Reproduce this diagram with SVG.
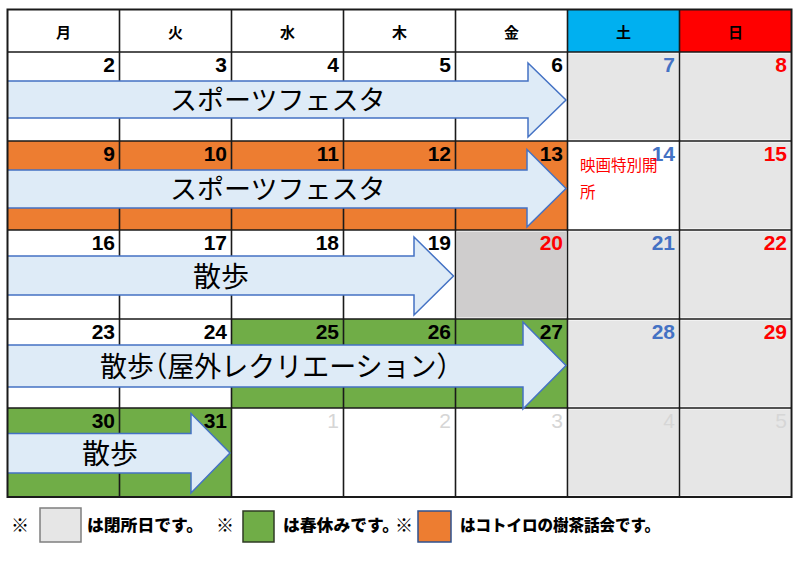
<svg xmlns="http://www.w3.org/2000/svg" width="800" height="565" viewBox="0 0 800 565">
<style>
.hd{font-family:"Noto Sans CJK JP","Noto Sans",sans-serif;font-weight:bold;font-size:15px;fill:#000;text-anchor:middle}
.n{font-family:"Liberation Sans",Arial,sans-serif;font-weight:bold;font-size:21px;text-anchor:end;fill:#000}
.sat{fill:#4472C4}
.sun{fill:#FF0000}
.nx{fill:#D6D6D6;font-weight:normal}
.grid{stroke:#1a1a1a;stroke-width:1.6;fill:none}
.arrow{fill:#DEEBF7;stroke:#4472C4;stroke-width:1.5;stroke-linejoin:miter}
.at{font-family:"Noto Sans CJK JP","Noto Sans",sans-serif;font-size:27px;fill:#000}
.note{font-family:"Noto Sans CJK JP",sans-serif;font-size:15.5px;fill:#FF0000}
.lg{font-family:"Noto Sans CJK JP",sans-serif;font-weight:900;font-size:16px;fill:#000}
.km{font-family:"Noto Sans CJK JP",sans-serif;font-weight:900;font-size:18px;fill:#000}
.closed{fill:#E6E6E6}
.spring{fill:#70AD47}
.tea{fill:#ED7D31}
</style>
<rect x="0" y="0" width="800" height="565" fill="#fff"/>

<g id="header">
<rect x="567.5" y="9.5" width="112" height="42.5" fill="#00B0F0"/>
<rect x="679.5" y="9.5" width="112" height="42.5" fill="#FF0000"/>
<text class="hd" x="63.5" y="38">月</text>
<text class="hd" x="175.5" y="38">火</text>
<text class="hd" x="287.5" y="38">水</text>
<text class="hd" x="399.5" y="38">木</text>
<text class="hd" x="511.5" y="38">金</text>
<text class="hd" x="623.5" y="38">土</text>
<text class="hd" x="735.5" y="38">日</text>
</g>

<g id="cells">
<rect class="closed" x="569" y="53.5" width="109" height="86"/>
<rect class="closed" x="681" y="53.5" width="109" height="86"/>
<rect class="tea" x="7.5" y="141" width="560" height="89"/>
<rect class="closed" x="681" y="142.5" width="109" height="86"/>
<rect x="457" y="231.5" width="109" height="86" fill="#CFCDCD"/>
<rect class="closed" x="569" y="231.5" width="109" height="86"/>
<rect class="closed" x="681" y="231.5" width="109" height="86"/>
<rect class="spring" x="231.5" y="319" width="336" height="89"/>
<rect class="closed" x="569" y="320.5" width="109" height="86"/>
<rect class="closed" x="681" y="320.5" width="109" height="86"/>
<rect class="spring" x="7.5" y="408" width="224" height="89"/>
<rect class="closed" x="569" y="409.5" width="109" height="86"/>
<rect class="closed" x="681" y="409.5" width="109" height="86"/>
</g>

<g id="gridlines" class="grid">
<path d="M7.5 52H791.5M7.5 141H791.5M7.5 230H791.5M7.5 319H791.5M7.5 408H791.5"/>
<path d="M119.5 9.5V497M231.5 9.5V497M343.5 9.5V497M455.5 9.5V497M567.5 9.5V497M679.5 9.5V497"/>
</g>

<g id="arrows">
<g id="arrow-week1">
<path class="arrow" d="M8 81H528V63L566 100L528 137V118H8"/>
<text class="at" x="170" y="110">スポーツフェスタ</text>
</g>
<g id="arrow-week2">
<path class="arrow" d="M8 170H527V149.5L566 188.5L527 227V208H8"/>
<text class="at" x="170" y="198.5">スポーツフェスタ</text>
</g>
<g id="arrow-week3">
<path class="arrow" d="M8 256H414V237L453.5 276L414 315V295H8"/>
<text class="at" x="193" y="287" style="font-size:28px">散歩</text>
</g>
<g id="arrow-week4">
<path class="arrow" d="M8 345H523V322L566 365.5L523 409V387H8"/>
<text class="at" x="100" y="376.5" style="font-size:28px;font-feature-settings:'halt'" textLength="350" lengthAdjust="spacingAndGlyphs">散歩（屋外レクリエーション）</text>
</g>
<g id="arrow-week5">
<path class="arrow" d="M8 433.5H191V413.5L230 453L191 493V473H8"/>
<text class="at" x="82" y="464" style="font-size:28px">散歩</text>
</g>
</g>

<rect class="grid" x="7.5" y="9.5" width="784" height="487.5" style="stroke-width:2"/>

<g id="numbers">
<text class="n" x="115" y="71.5">2</text>
<text class="n" x="227" y="71.5">3</text>
<text class="n" x="339" y="71.5">4</text>
<text class="n" x="451" y="71.5">5</text>
<text class="n" x="563" y="71.5">6</text>
<text class="n sat" x="675" y="71.5">7</text>
<text class="n sun" x="787" y="71.5">8</text>

<text class="n" x="115" y="160.5">9</text>
<text class="n" x="227" y="160.5">10</text>
<text class="n" x="339" y="160.5">11</text>
<text class="n" x="451" y="160.5">12</text>
<text class="n" x="563" y="160.5">13</text>
<text class="n sat" x="675" y="160.5">14</text>
<text class="n sun" x="787" y="160.5">15</text>

<text class="n" x="115" y="249.5">16</text>
<text class="n" x="227" y="249.5">17</text>
<text class="n" x="339" y="249.5">18</text>
<text class="n" x="451" y="249.5">19</text>
<text class="n sun" x="563" y="249.5">20</text>
<text class="n sat" x="675" y="249.5">21</text>
<text class="n sun" x="787" y="249.5">22</text>

<text class="n" x="115" y="338.5">23</text>
<text class="n" x="227" y="338.5">24</text>
<text class="n" x="339" y="338.5">25</text>
<text class="n" x="451" y="338.5">26</text>
<text class="n" x="563" y="338.5">27</text>
<text class="n sat" x="675" y="338.5">28</text>
<text class="n sun" x="787" y="338.5">29</text>

<text class="n" x="115" y="427.5">30</text>
<text class="n" x="227" y="427.5">31</text>
<text class="n nx" x="339" y="427.5">1</text>
<text class="n nx" x="451" y="427.5">2</text>
<text class="n nx" x="563" y="427.5">3</text>
<text class="n nx" x="675" y="427.5">4</text>
<text class="n nx" x="787" y="427.5">5</text>
</g>

<g id="note-14">
<text class="note" x="580" y="171">映画特別開</text>
<text class="note" x="580" y="197.5">所</text>
</g>

<g id="legend">
<text class="km" x="11" y="532">※</text>
<rect x="40" y="508" width="41" height="34" fill="#E6E6E6" stroke="#7F7F7F" stroke-width="1.5"/>
<text class="lg" x="87" y="531" textLength="116" lengthAdjust="spacingAndGlyphs">は閉所日です。</text>
<text class="km" x="216" y="532">※</text>
<rect x="243" y="511" width="31" height="31" fill="#70AD47" stroke="#2F3B24" stroke-width="1.5"/>
<text class="lg" x="283" y="531" textLength="116" lengthAdjust="spacingAndGlyphs">は春休みです。</text>
<text class="km" x="395" y="532">※</text>
<rect x="418" y="511" width="33" height="31" fill="#ED7D31" stroke="#2F528F" stroke-width="1.5"/>
<text class="lg" x="460" y="531" textLength="200" lengthAdjust="spacingAndGlyphs">はコトイロの樹茶話会です。</text>
</g>
</svg>
